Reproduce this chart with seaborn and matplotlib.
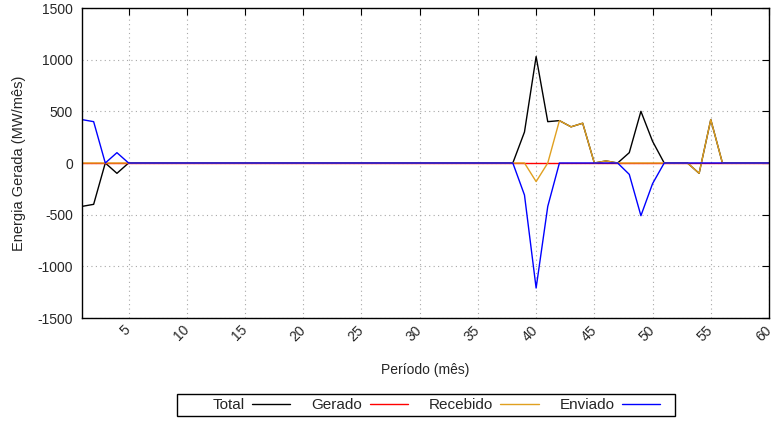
import numpy as np
import pandas as pd
import matplotlib
matplotlib.use("Agg")
import matplotlib.pyplot as plt
from matplotlib.patches import Rectangle
import seaborn as sns

# dados (periodo em meses)
periodos = list(range(1, 61))

total = [-420, -400, 0, -100, 0, 0, 0, 0, 0, 0,
         0, 0, 0, 0, 0, 0, 0, 0, 0, 0,
         0, 0, 0, 0, 0, 0, 0, 0, 0, 0,
         0, 0, 0, 0, 0, 0, 0, 0, 300, 1030,
         400, 410, 350, 385, 0, 20, 0, 100, 500, 210,
         0, 0, 0, -100, 420, 0, 0, 0, 0, 0]

gerado = [0] * 60

recebido = [0, 0, 0, 0, 0, 0, 0, 0, 0, 0,
            0, 0, 0, 0, 0, 0, 0, 0, 0, 0,
            0, 0, 0, 0, 0, 0, 0, 0, 0, 0,
            0, 0, 0, 0, 0, 0, 0, 0, 0, -180,
            0, 410, 350, 385, 0, 20, 0, 0, 0, 0,
            0, 0, 0, -100, 420, 0, 0, 0, 0, 0]

enviado = [420, 400, 0, 100, 0, 0, 0, 0, 0, 0,
           0, 0, 0, 0, 0, 0, 0, 0, 0, 0,
           0, 0, 0, 0, 0, 0, 0, 0, 0, 0,
           0, 0, 0, 0, 0, 0, 0, 0, -310, -1210,
           -420, 0, 0, 0, 0, 0, 0, -110, -510, -200,
           0, 0, 0, 0, 0, 0, 0, 0, 0, 0]

series = ["Total", "Gerado", "Recebido", "Enviado"]
cores = ["#000000", "#ff0000", "#e0a020", "#0000ff"]

df = pd.DataFrame({
    "Periodo": periodos * 4,
    "Energia": total + gerado + recebido + enviado,
    "Serie": sum([[s] * 60 for s in series], []),
})

sns.set_style("white")
plt.rcParams["font.family"] = ["Liberation Sans", "DejaVu Sans"]
plt.rcParams["axes.unicode_minus"] = False

fig = plt.figure(figsize=(7.83, 4.23), dpi=100)
ax = fig.add_axes([82 / 783, 1 - 318 / 423, (769 - 82) / 783, (318 - 8) / 423])

sns.lineplot(data=df, x="Periodo", y="Energia", hue="Serie", hue_order=series,
             palette=cores, linewidth=1, ax=ax, legend=False)

ax.set_xlim(1, 60)
ax.set_ylim(-1500, 1500)
ax.set_xticks(range(5, 61, 5))
ax.set_yticks(range(-1500, 1501, 500))
ax.tick_params(direction="in", top=True, right=True, length=5, width=0.8, color="black")
ax.tick_params(axis="y", labelsize=10, pad=6.5)
ax.tick_params(axis="x", labelsize=10, pad=7)
for lbl in ax.get_xticklabels():
    lbl.set_rotation(45)
    lbl.set_ha("right")
    lbl.set_va("center")
    lbl.set_rotation_mode("anchor")
ax.grid(True, color="#a8a8a8", linestyle=(0, (1, 3)), linewidth=0.8)
for sp in ax.spines.values():
    sp.set_color("black")
    sp.set_linewidth(1)

ax.set_xlabel("Período (mês)", fontsize=10, labelpad=14)
ax.set_ylabel("Energia Gerada (MW/mês)", fontsize=10.5, labelpad=8)

# legenda estilo gnuplot: texto antes da linha, caixa desenhada a parte
handles = [plt.Line2D([], [], color=c, linewidth=1) for c in cores]
leg = fig.legend(handles, series, loc="center left",
                 bbox_to_anchor=(213 / 783, 1 - 405 / 423), borderaxespad=0,
                 ncol=4, markerfirst=False, frameon=False, borderpad=0,
                 fontsize=11, handlelength=2.5, columnspacing=1.4,
                 handletextpad=0.46)
fig.patches.append(Rectangle((177 / 783, 1 - 416 / 423), 498 / 783, 22 / 423,
                             transform=fig.transFigure, fill=False,
                             edgecolor="black", linewidth=1))

fig.savefig("out.png", dpi=100)
